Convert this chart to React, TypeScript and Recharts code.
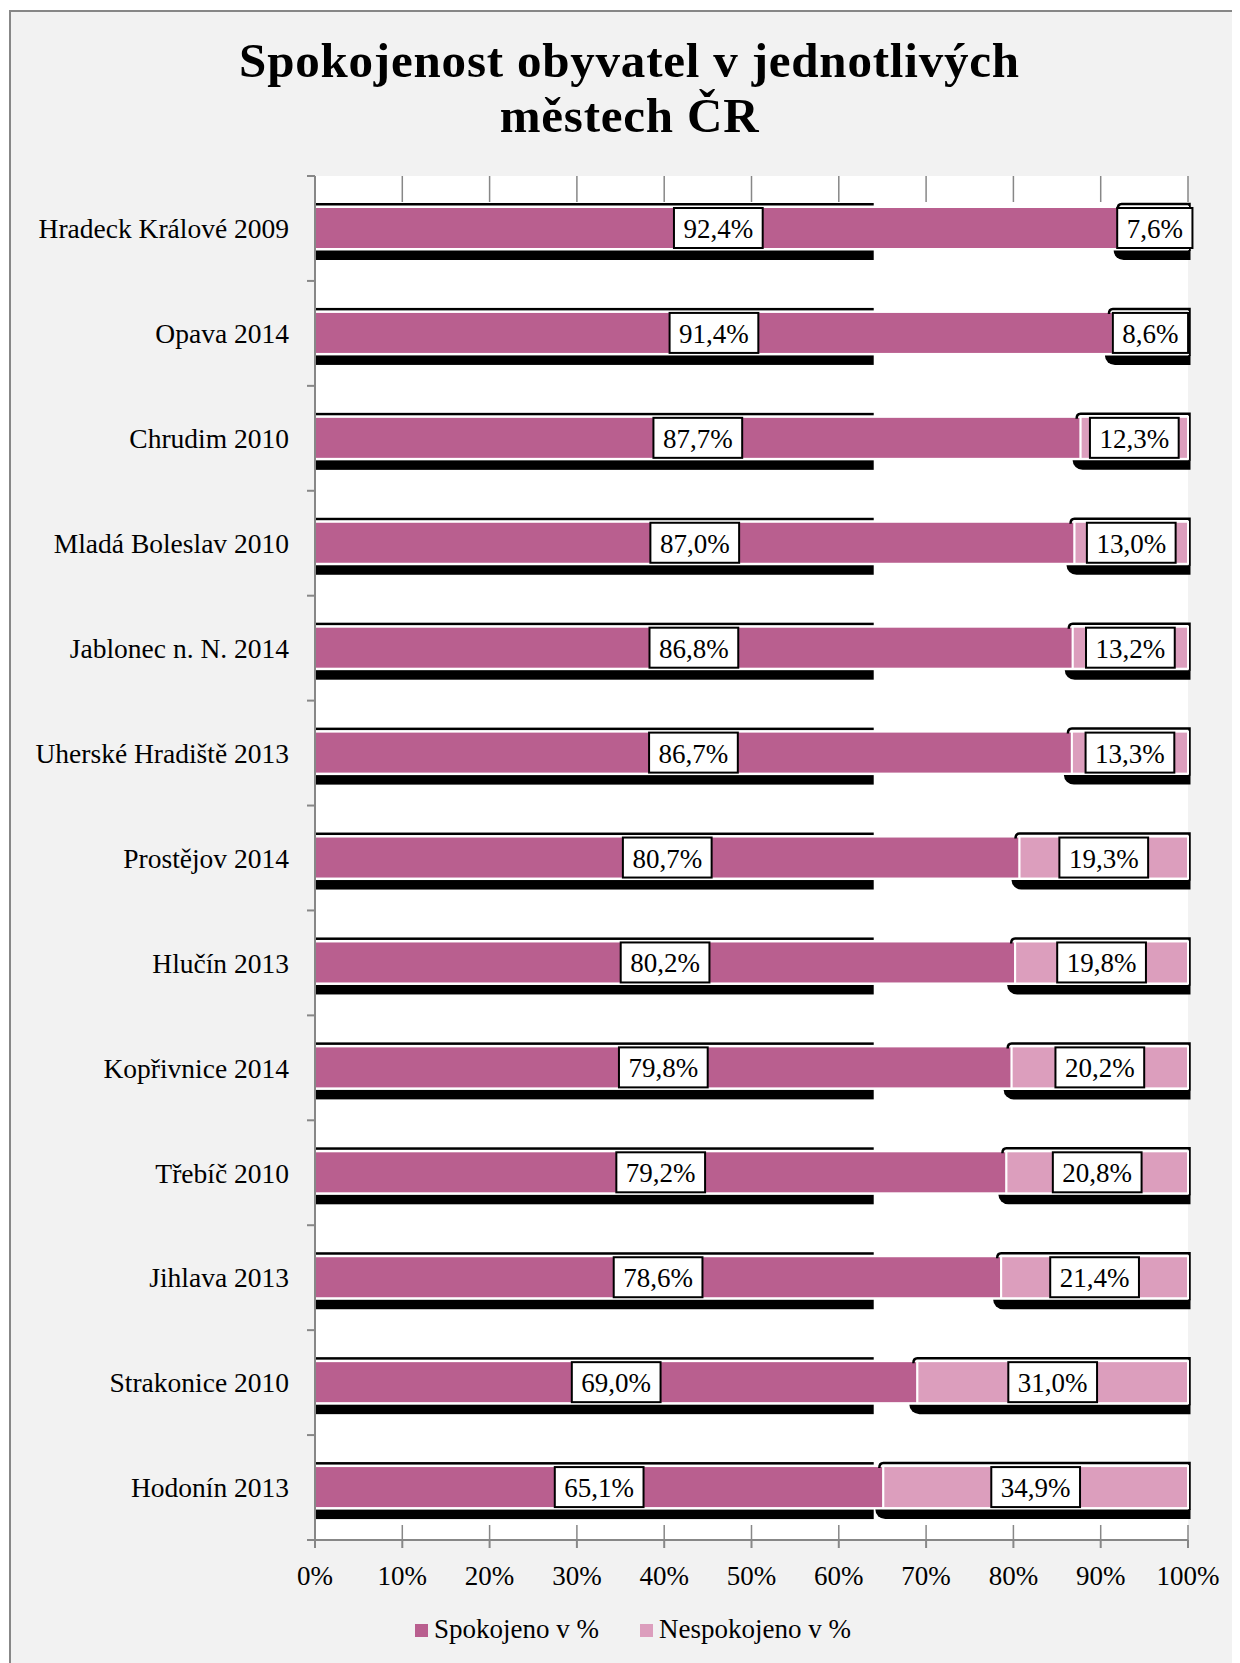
import React from 'react';
import { Bar, BarChart, CartesianGrid, LabelList, XAxis, YAxis } from 'recharts';

const CITIES = [
  'Hradeck Králové 2009',
  'Opava 2014',
  'Chrudim 2010',
  'Mladá Boleslav 2010',
  'Jablonec n. N. 2014',
  'Uherské Hradiště 2013',
  'Prostějov 2014',
  'Hlučín 2013',
  'Kopřivnice 2014',
  'Třebíč 2010',
  'Jihlava 2013',
  'Strakonice 2010',
  'Hodonín 2013',
];
const SATISFIED = [92.4, 91.4, 87.7, 87.0, 86.8, 86.7, 80.7, 80.2, 79.8, 79.2, 78.6, 69.0, 65.1];
const DISSATISFIED = [7.6, 8.6, 12.3, 13.0, 13.2, 13.3, 19.3, 19.8, 20.2, 20.8, 21.4, 31.0, 34.9];
const X_TICKS = [0, 10, 20, 30, 40, 50, 60, 70, 80, 90, 100];

const SERIES_1 = 'Spokojeno v %';
const SERIES_2 = 'Nespokojeno v %';

const COLOR_1 = '#b95f8f';
const COLOR_2 = '#dc9ebd';
const AXIS = '#878787';
const BG = '#f2f2f2';
const FONT = '"Liberation Serif", "Times New Roman", serif';
const FS = 27;

// where the first series' shadow stops, in percent of the axis (as in the source)
const SHADOW_CUT = 64;

const W = 1229;
const H = 1640;

const data = CITIES.map((city, i) => ({
  city,
  satisfied: SATISFIED[i],
  dissatisfied: DISSATISFIED[i],
}));

const fmt = (v: number) => `${v.toFixed(1).replace('.', ',')}%`;

let ctx: CanvasRenderingContext2D | null = null;
const textWidth = (s: string) => {
  if (!ctx) {
    ctx = document.createElement('canvas').getContext('2d');
    if (ctx) ctx.font = `${FS}px ${FONT}`;
  }
  return ctx ? ctx.measureText(s).width : s.length * FS * 0.5;
};

const FirstShape = (props: any) => {
  const { x, y, width, height, payload } = props;
  const cutW = (width * SHADOW_CUT) / payload.satisfied;
  return (
    <g>
      <rect x={x} y={y - 4} width={cutW} height={2.5} fill="#000" />
      <rect x={x} y={y + height + 1.5} width={cutW} height={9.5} fill="#000" />
      <rect x={x} y={y} width={width} height={height} fill={COLOR_1} stroke="#fff" strokeWidth={2} />
    </g>
  );
};

const SecondShape = (props: any) => {
  const { x, y, width, height } = props;
  const r = x + width + 1.5;
  const b = y + height;
  return (
    <g>
      <path
        d={`M${x - 4},${y + 2} Q${x - 4},${y - 3} ${x},${y - 3} L${r},${y - 3} L${r},${b + 2}`}
        fill="none"
        stroke="#000"
        strokeWidth={2.5}
      />
      <path
        d={`M${x - 8},${b + 1.5} L${r + 1},${b + 1.5} L${r + 1},${b + 11} L${x + 2},${b + 11} A10 9.5 0 0 1 ${x - 8},${b + 1.5} Z`}
        fill="#000"
      />
      <rect x={x} y={y} width={width} height={height} fill={COLOR_2} stroke="#fff" strokeWidth={2} />
    </g>
  );
};

const labelFor = (values: number[]) => (props: any) => {
  const vb = props.viewBox && props.viewBox.width != null ? props.viewBox : props;
  const { x, y, width, height } = vb;
  const idx = props.index;
  if (idx == null || values[idx] == null) return null;
  const text = fmt(values[idx]);
  const bw = textWidth(text) + 19;
  const cx = x + width / 2;
  const cy = y + height / 2;
  return (
    <g>
      <rect x={cx - bw / 2} y={y + 1} width={bw} height={height - 2} fill="#fff" stroke="#000" strokeWidth={2} />
      <text x={cx} y={cy + 10} textAnchor="middle" fontSize={FS} fontFamily={FONT} fill="#000">
        {text}
      </text>
    </g>
  );
};

const CityTick = (props: any) => {
  const { x, y, payload, index } = props;
  const half = payload.offset || 52.45;
  return (
    <g>
      <line x1={x + 18} x2={x + 26} y1={y - half} y2={y - half} stroke={AXIS} strokeWidth={2} />
      {index === CITIES.length - 1 && (
        <line x1={x + 18} x2={x + 26} y1={y + half} y2={y + half} stroke={AXIS} strokeWidth={2} />
      )}
      <text x={x} y={y} dy="0.355em" textAnchor="end" fontSize={27.5} fontFamily={FONT} fill="#000">
        {payload.value}
      </text>
    </g>
  );
};

// Only short stubs of the gridlines show: at the top of the plot and just above the axis.
const GridStub = (props: any) => {
  const { x1, y1, y2 } = props;
  const top = Math.min(y1, y2);
  const bottom = Math.max(y1, y2);
  return (
    <g key={props.key}>
      <line x1={x1} x2={x1} y1={top} y2={top + 26} stroke={AXIS} strokeWidth={1.5} />
      <line x1={x1} x2={x1} y1={bottom - 15} y2={bottom} stroke={AXIS} strokeWidth={1.5} />
    </g>
  );
};

const LegendItem: React.FC<{ color: string; label: string; last?: boolean }> = ({ color, label, last }) => (
  <div style={{ display: 'flex', alignItems: 'center', marginRight: last ? 0 : 41 }}>
    <span style={{ width: 13, height: 13, background: color, marginRight: 6, marginTop: 2 }} />
    <span>{label}</span>
  </div>
);

const App: React.FC = () => (
  <div
    style={{
      position: 'relative',
      boxSizing: 'border-box',
      width: 1231,
      height: 1653,
      marginLeft: 1,
      marginTop: 2,
      borderTop: `2px solid ${AXIS}`,
      borderLeft: `2px solid ${AXIS}`,
      background: BG,
      fontFamily: FONT,
      color: '#000',
    }}
  >
    <div
      style={{
        position: 'absolute',
        left: 0,
        top: 21,
        width: 1237,
        textAlign: 'center',
        fontSize: 49,
        lineHeight: '55px',
        fontWeight: 'bold',
        letterSpacing: 0.8,
      }}
    >
      Spokojenost obyvatel v jednotlivých
      <br />
      městech ČR
    </div>

    <div style={{ position: 'absolute', left: 0, top: 0 }}>
      <BarChart
        width={W}
        height={H}
        data={data}
        layout="vertical"
        margin={{ top: 164, right: 52, bottom: 52, left: 0 }}
        style={{ fontFamily: FONT }}
      >
        <CartesianGrid horizontal={false} vertical={GridStub} fill="#fff" fillOpacity={1} />
        <XAxis
          type="number"
          domain={[0, 100]}
          ticks={X_TICKS}
          interval={0}
          tickFormatter={(v: number) => `${v}%`}
          tick={{ fontSize: FS, fill: '#000', fontFamily: FONT }}
          tickSize={8}
          tickMargin={18}
          height={60}
          stroke={AXIS}
          axisLine={{ stroke: AXIS, strokeWidth: 2 }}
          tickLine={{ stroke: AXIS, strokeWidth: 2 }}
        />
        <YAxis
          type="category"
          dataKey="city"
          width={304}
          interval={0}
          tickSize={8}
          tickMargin={18}
          tickLine={false}
          axisLine={{ stroke: AXIS, strokeWidth: 2 }}
          tick={CityTick}
        />
        <Bar
          dataKey="satisfied"
          name={SERIES_1}
          stackId="a"
          barSize={42}
          fill={COLOR_1}
          shape={FirstShape}
          isAnimationActive={false}
        >
          <LabelList dataKey="satisfied" content={labelFor(SATISFIED)} />
        </Bar>
        <Bar
          dataKey="dissatisfied"
          name={SERIES_2}
          stackId="a"
          barSize={42}
          fill={COLOR_2}
          shape={SecondShape}
          isAnimationActive={false}
        >
          <LabelList dataKey="dissatisfied" content={labelFor(DISSATISFIED)} />
        </Bar>
      </BarChart>
    </div>

    <div
      style={{
        position: 'absolute',
        left: 404,
        top: 1602,
        display: 'flex',
        fontSize: FS,
        lineHeight: '30px',
      }}
    >
      <LegendItem color={COLOR_1} label={SERIES_1} />
      <LegendItem color={COLOR_2} label={SERIES_2} last />
    </div>
  </div>
);

export default App;
